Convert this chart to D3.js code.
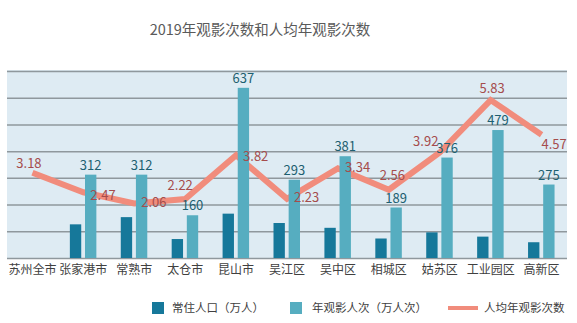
<!DOCTYPE html>
<html>
<head>
<meta charset="utf-8">
<script src="https://cdn.jsdelivr.net/npm/d3@7"></script>
<style>
  body { margin: 0; background: #fff; }
  text { font-family: "Noto Sans CJK SC", "Noto Sans", sans-serif; }
</style>
</head>
<body>
<div id="chart"></div>
<script>
const districts = ['苏州全市', '张家港市', '常熟市', '太仓市', '昆山市', '吴江区', '吴中区', '相城区', '姑苏区', '工业园区', '高新区']
// 常住人口（万人）, no bar for the whole city
const population = [null, 126, 153, 71, 166, 131, 113, 73, 96, 80, 59]
// 年观影人次（万人次）
const admissions = [null, 312, 312, 160, 637, 293, 381, 189, 376, 479, 275]
// 人均年观影次数
const perCapita = [3.18, 2.47, 2.06, 2.22, 3.82, 2.23, 3.34, 2.56, 3.92, 5.83, 4.57]
const barTicks = [0, 100, 200, 300, 400, 500, 600, 700]
const legendNames = ['常住人口（万人）', '年观影人次（万人次）', '人均年观影次数']

// where each line label sits relative to its point
const lineLabelPos = [
    [-3.5, -4.5, 'middle'], [7, 8, 'start'], [7, 4, 'start'], [-5, -9.5, 'middle'],
    [7, 6, 'start'], [7, 3, 'start'], [7, 4, 'start'], [3.5, -10, 'middle'],
    [-14, -6.5, 'middle'], [1.5, -7.5, 'middle'], [0, 14, 'start']
]

const width = 577, height = 323
const plotLeft = 7, plotRight = 567, plotTop = 71, plotBottom = 258

const darkColor = '#16789a', lightColor = '#56adc0', lineColor = '#f18c7c'

var svg = d3.select('#chart').append('svg')
    .attr('width', width)
    .attr('height', height)

var x = d3.scaleBand().domain(districts).range([plotLeft, plotRight])
var sub = d3.scaleBand().domain(['pop', 'adm']).range([-13.5, 13]).paddingInner(0.25)
var y = d3.scaleLinear().domain([0, 700]).range([plotBottom, plotTop])
var y2 = d3.scaleLinear().domain([0, 7]).range([260, 68])

svg.append('text')
    .attr('x', 260).attr('y', 35)
    .attr('text-anchor', 'middle')
    .attr('font-size', 14.5)
    .attr('fill', '#5a5a5a')
    .text('2019年观影次数和人均年观影次数')

svg.append('rect')
    .attr('x', plotLeft).attr('y', plotTop - 1)
    .attr('width', plotRight - plotLeft).attr('height', plotBottom - plotTop + 1)
    .attr('fill', '#deebf3')

// gridlines
svg.append('g')
    .attr('transform', `translate(${plotLeft},0)`)
    .call(d3.axisLeft(y).tickValues(barTicks).tickSize(-(plotRight - plotLeft)).tickFormat(''))
    .call(g => g.select('.domain').remove())
    .call(g => g.selectAll('line').attr('stroke', '#8f989d').attr('stroke-width', 1.5))

// line goes behind the bars
var line = d3.line()
    .x((d, i) => x(districts[i]) + x.bandwidth() / 2)
    .y(d => y2(d))

svg.append('path')
    .datum(perCapita)
    .attr('d', line)
    .attr('fill', 'none')
    .attr('stroke', lineColor)
    .attr('stroke-width', 6)
    .attr('stroke-linejoin', 'miter')

var groups = svg.selectAll('.grp')
    .data(districts)
    .enter().append('g')
    .attr('transform', d => `translate(${x(d) + x.bandwidth() / 2},0)`)

groups.filter((d, i) => population[i] != null)
    .append('rect')
    .attr('x', sub('pop'))
    .attr('width', sub.bandwidth())
    .attr('y', d => y(population[districts.indexOf(d)]))
    .attr('height', d => plotBottom - y(population[districts.indexOf(d)]))
    .attr('fill', darkColor)

groups.filter((d, i) => admissions[i] != null)
    .append('rect')
    .attr('x', sub('adm'))
    .attr('width', sub.bandwidth())
    .attr('y', d => y(admissions[districts.indexOf(d)]))
    .attr('height', d => plotBottom - y(admissions[districts.indexOf(d)]))
    .attr('fill', lightColor)

groups.filter((d, i) => admissions[i] != null)
    .append('text')
    .attr('x', sub('adm') + sub.bandwidth() / 2)
    .attr('y', d => y(admissions[districts.indexOf(d)]) - 5)
    .attr('text-anchor', 'middle')
    .attr('font-size', 13)
    .attr('font-family', '"Noto Sans", sans-serif')
    .attr('fill', '#1d5f70')
    .text(d => admissions[districts.indexOf(d)])

svg.selectAll('.lbl')
    .data(perCapita)
    .enter().append('text')
    .attr('x', (d, i) => x(districts[i]) + x.bandwidth() / 2 + lineLabelPos[i][0])
    .attr('y', (d, i) => y2(d) + lineLabelPos[i][1])
    .attr('text-anchor', (d, i) => lineLabelPos[i][2])
    .attr('font-size', 13)
    .attr('font-family', '"Noto Sans", sans-serif')
    .attr('fill', '#a54c4c')
    .text(d => d.toFixed(2))

// category axis
svg.append('g')
    .attr('transform', `translate(0,${plotBottom})`)
    .call(d3.axisBottom(x).tickSize(0).tickPadding(7))
    .call(g => g.select('.domain').remove())
    .call(g => g.selectAll('text')
        .attr('font-size', 12)
        .attr('font-family', '"Noto Sans CJK SC", sans-serif')
        .attr('fill', '#404040'))

// legend
var legend = svg.append('g').attr('font-size', 11.5).attr('fill', '#404040')
legend.append('rect').attr('x', 152).attr('y', 302).attr('width', 12).attr('height', 12).attr('fill', darkColor)
legend.append('text').attr('x', 172).attr('y', 312).text(legendNames[0])
legend.append('rect').attr('x', 290).attr('y', 302).attr('width', 12).attr('height', 12).attr('fill', lightColor)
legend.append('text').attr('x', 312).attr('y', 312).text(legendNames[1])
legend.append('rect').attr('x', 448).attr('y', 306).attr('width', 30).attr('height', 4).attr('fill', lineColor)
legend.append('text').attr('x', 484).attr('y', 312).text(legendNames[2])
</script>
</body>
</html>
